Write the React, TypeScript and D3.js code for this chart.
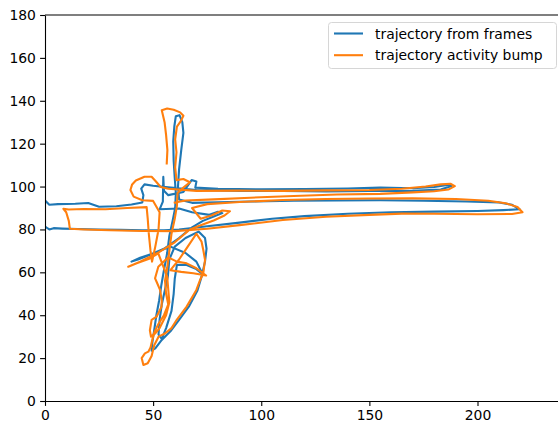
import * as React from 'react';
import * as d3 from 'd3';

// x, y pairs (arena units)
const blueTrack: [number, number][] = [
  [0.5, 81], [2, 80], [4, 80.6], [8, 80.4], [15, 80.2], [25, 80], [35, 79.8], [45, 79.6], [55, 79.6], [62, 80],
  [75, 81.5], [90, 83.2], [105, 85], [120, 86.2], [140, 87.3], [160, 88], [180, 88.3], [200, 88.6], [212, 89], [219.5, 89.4],
  [216, 91.5], [210, 92.6], [195, 93], [175, 93.4], [155, 93.6], [135, 93.5], [115, 93.4], [95, 93], [80, 92.7], [68, 92.4],
  [62, 94], [61.5, 100], [62, 108], [63, 117], [64, 125], [63.5, 130], [62.2, 133.3], [60.5, 132.8], [59.8, 128], [59.3, 121],
  [59.5, 112], [60, 104], [60.5, 97], [60.2, 90],
  [59, 84], [57.5, 77], [56.5, 69], [55, 61], [53.8, 54], [52.8, 47], [51.5, 40], [50.5, 33], [49.6, 27], [49.3, 23.5], [51, 24.5],
  [54, 28.5], [58, 32.5], [62, 37.8], [66.5, 44], [70.5, 51.5], [72.4, 58], [74, 65], [74.7, 71], [74, 76], [71, 79],
  [65, 76], [60, 72], [57.5, 66], [56.8, 58], [55.5, 52], [54, 45], [53, 38], [52.5, 31], [54, 29], [56, 34], [58.5, 42],
  [59.5, 50], [60, 57], [61, 63.5], [65.5, 63.4], [70, 61.5], [73, 59],
  [70, 65], [65, 69], [58, 72],
  [50, 68.8], [44, 66.8], [40, 65], [43, 66], [48, 68], [55, 71], [62, 76], [68, 81], [73, 84], [78, 86], [82, 87.6], [80, 88.2], [76, 86.8],
  [68, 88], [62, 89.8], [53, 89.4], [54.5, 93], [54.7, 104.5], [55, 98], [57, 96],
  [64, 97.5], [67.8, 103], [70, 102.3], [69.5, 99.5],
  [80, 99], [100, 98.7], [120, 98.8], [140, 99.1], [155, 99.5], [170, 99.2], [180, 99.8], [186, 100.8], [188, 100.3],
  [183, 98.6], [170, 98], [150, 97.9], [130, 97.7], [110, 97.9], [90, 98], [70, 98.4], [57, 99.6],
  [50, 100.4], [46, 101], [44.5, 99], [45.5, 96], [45, 92.6], [40, 91.6], [33, 90.8], [25, 90.6], [20, 92.3], [14, 92],
  [6, 91.8], [2, 91.5], [0.5, 93],
];

const orangeTrack: [number, number][] = [
  [56.3, 110.8], [56.6, 117], [56, 124], [55.3, 130], [54, 135.6], [56.5, 136.4], [59.5, 135.8], [62.5, 134.6], [64, 133],
  [62.8, 130.5], [61, 128], [60.2, 122], [60.8, 116], [60.2, 109], [60.8, 103], [64, 103.5], [67, 102], [64, 99.5], [61.3, 97], [61, 91],
  [60, 85], [58.5, 78], [57.5, 70], [56.5, 62], [55.5, 56], [56, 50], [57, 45], [55, 40], [52.5, 36], [50.5, 32], [49.5, 28],
  [48.8, 25], [47.8, 23], [46.2, 22.2], [44.7, 20], [45.5, 16.8], [47.5, 17.6], [49.3, 21], [50.5, 26], [52.5, 30], [55.5, 31.5],
  [58.5, 34], [61, 38], [65.5, 44], [70, 51.8], [71.7, 56.4], [73.2, 59.6], [74, 65.8], [73.2, 70.4], [72.4, 74.3], [70, 78],
  [66, 72], [62, 66], [58, 61], [63, 60.2], [68.6, 59.6], [74.5, 58.5], [70, 61.9], [65.5, 64.2], [61, 65], [57, 67],
  [52.4, 62.6], [50.9, 57.2], [51.6, 55.6], [53.2, 51.8], [54, 47], [53.9, 44], [51.6, 39.3], [49.3, 37.8], [48.5, 33], [49, 30],
  [51, 31.5], [53, 34], [56, 40], [57.5, 46], [57, 52], [56.5, 58],
  [52.4, 68.8], [48.5, 66.5], [42.4, 64.2], [38.5, 62.6], [44, 65], [52, 69], [60, 74], [67, 80], [72, 82], [78, 84.2],
  [83, 86.5], [85.5, 88.5], [82, 88.8], [77, 86.5], [72, 85], [68, 90],
  [75, 91.8], [90, 92.8], [110, 93.7], [130, 94.2], [150, 94.4], [170, 94.5], [190, 94.2], [205, 93.4], [213, 92.2], [218.5, 90.5],
  [220.8, 88], [216, 87.2], [200, 87.1], [180, 87.3], [165, 87.4], [150, 86.8], [130, 85.9], [110, 84.4], [90, 82], [75, 80.3],
  [60, 79.2], [45, 79.3], [30, 79.6], [18, 80], [11.5, 80.3], [11, 84], [9.8, 88], [8.5, 89.6], [11, 89.3], [18, 89.5],
  [28, 89.4], [38, 90], [47, 90.4],
  [47.5, 85], [48, 78], [48.8, 70], [49.5, 65],
  [51, 72], [52.5, 80], [53, 88], [50, 93.3], [45, 93.6], [41, 95.3], [39.5, 98.4], [40.3, 101], [42, 102.8], [46, 104.6],
  [49.3, 104.6], [51.2, 102.5], [53.5, 99.8], [57, 99],
  [70, 98], [90, 98.1], [110, 98], [130, 98.2], [150, 98.4], [165, 99], [176, 100], [183, 101], [187.5, 101.3], [189.5, 100.2],
  [186.5, 98.6], [180, 97.8], [170, 97.3], [155, 96.6], [135, 96.3], [115, 95.6], [95, 94.8], [78, 94], [65, 93.5], [60, 92.5],
];

const xTicks = [0, 50, 100, 150, 200];
const yTicks = [0, 20, 40, 60, 80, 100, 120, 140, 160, 180];
const seriesNames = ['trajectory from frames', 'trajectory activity bump'];
const seriesColors = ['#1f77b4', '#ff7f0e'];

const FONT = 'DejaVu Sans, sans-serif';

const App = () => {
  const nodeRef = React.useRef<SVGSVGElement>(null);

  React.useEffect(() => {
    const svg = d3.select(nodeRef.current);
    svg.selectAll('*').remove();

    const left = 45, right = 564, top = 15, bottom = 401;
    const x = d3.scaleLinear().domain([0, 240]).range([left, right]);
    const y = d3.scaleLinear().domain([0, 180]).range([bottom, top]);

    svg.append('defs').append('clipPath').attr('id', 'plot-clip')
      .append('rect').attr('x', left).attr('y', top)
      .attr('width', right - left).attr('height', bottom - top);

    const line = d3.line<[number, number]>()
      .x(d => x(d[0]))
      .y(d => y(d[1]));

    [blueTrack, orangeTrack].forEach((track, i) => {
      svg.append('path')
        .datum(track)
        .attr('clip-path', 'url(#plot-clip)')
        .attr('fill', 'none')
        .attr('stroke', seriesColors[i])
        .attr('stroke-width', 2.1)
        .attr('stroke-linejoin', 'round')
        .attr('stroke-linecap', 'square')
        .attr('d', line);
    });

    // axes
    const xAxis = svg.append('g')
      .attr('transform', 'translate(0,' + bottom + ')')
      .call(d3.axisBottom(x).tickValues(xTicks).tickSize(4.9).tickPadding(4.2).tickSizeOuter(0));
    const yAxis = svg.append('g')
      .attr('transform', 'translate(' + left + ',0)')
      .call(d3.axisLeft(y).tickValues(yTicks).tickSize(4.9).tickPadding(4.2).tickSizeOuter(0));

    [xAxis, yAxis].forEach(g => {
      g.attr('font-family', FONT).attr('font-size', 13.9);
      g.selectAll('text').attr('fill', '#000');
      g.selectAll('line').attr('stroke', '#000').attr('stroke-width', 1.1);
      g.select('.domain').attr('stroke', '#000').attr('stroke-width', 1.1);
    });

    svg.append('line')
      .attr('x1', left).attr('x2', right)
      .attr('y1', top).attr('y2', top)
      .attr('stroke', '#000').attr('stroke-width', 1.1);

    // legend
    const legend = svg.append('g');
    legend.append('rect')
      .attr('x', 328.5).attr('y', 22.5)
      .attr('width', 228).attr('height', 46)
      .attr('rx', 3)
      .attr('fill', '#fff').attr('fill-opacity', 0.8)
      .attr('stroke', '#d6d6d6').attr('stroke-width', 1);

    seriesNames.forEach((name, i) => {
      const cy = 33.5 + i * 21.7;
      legend.append('line')
        .attr('x1', 334).attr('x2', 363)
        .attr('y1', cy).attr('y2', cy)
        .attr('stroke', seriesColors[i]).attr('stroke-width', 2.1);
      legend.append('text')
        .attr('x', 375).attr('y', cy + 5)
        .attr('font-family', FONT).attr('font-size', 13.9)
        .attr('fill', '#000')
        .text(name);
    });
  }, []);

  return (
    <svg
      ref={nodeRef}
      width={558}
      height={426}
      style={{ position: 'absolute', left: 0, top: 0, background: '#fff' }}
    />
  );
};

export default App;
